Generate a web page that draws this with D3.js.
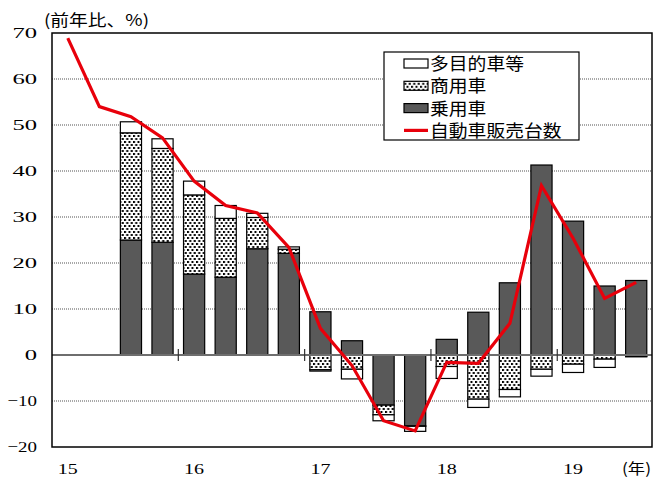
<!DOCTYPE html>
<html>
<head>
<meta charset="utf-8">
<script src="https://cdn.jsdelivr.net/npm/d3@7"></script>
<style>
  body { margin: 0; background: #fff; }
  .num { font-family: "Liberation Serif", "Times New Roman", serif; font-size: 16px; }
  .jp { font-family: "Noto Sans CJK JP", sans-serif; font-size: 15px; }
</style>
</head>
<body>
<svg width="653" height="479"></svg>
<script>
// quarters 2015Q1 .. 2019Q3
const categories = ['15Q1','15Q2','15Q3','15Q4','16Q1','16Q2','16Q3','16Q4','17Q1','17Q2','17Q3','17Q4',
  '18Q1','18Q2','18Q3','18Q4','19Q1','19Q2','19Q3'];
const yearLabels = ['15','','','','16','','','','17','','','','18','','','','19','',''];
const yTicks = [-20, -10, 0, 10, 20, 30, 40, 50, 60, 70];

// 乗用車
const passenger = [null, null, 25.0, 24.5, 17.6, 16.9, 23.1, 22.1, 9.4, 3.1, -10.9, -15.4, 3.4, 9.3, 15.7, 41.3, 29.1, 15.0, 16.2];
// 商用車
const commercial = [null, null, 23.3, 20.4, 17.2, 12.8, 6.8, 0.9, -3.2, -3.1, -2.1, -0.1, -2.5, -9.6, -7.5, -3.1, -2.0, -0.9, -0.3];
// 多目的車等
const multipurpose = [null, null, 2.4, 2.1, 3.0, 2.8, 0.9, 0.5, -0.3, -2.1, -1.3, -1.1, -2.6, -1.8, -1.6, -1.5, -1.8, -1.8, -0.1];
// 自動車販売台数
const sales = [68.9, 54.0, 51.8, 47.2, 37.8, 32.5, 30.9, 23.4, 5.8, -2.3, -14.3, -16.5, -1.6, -1.8, 6.9, 36.8, 25.4, 12.3, 15.8];

const svg = d3.select('svg');
const margin = { top: 33, right: 1, bottom: 32, left: 52 };
const width = +svg.attr('width');
const height = +svg.attr('height');
const innerWidth = width - margin.left - margin.right;
const innerHeight = height - margin.top - margin.bottom;

// dotted fill for 商用車
const defs = svg.append('defs');
const pat = defs.append('pattern')
  .attr('id', 'dots')
  .attr('patternUnits', 'userSpaceOnUse')
  .attr('width', 4.5).attr('height', 6);
pat.append('rect').attr('width', 4.5).attr('height', 6).attr('fill', '#fff');
pat.append('rect').attr('x', 0).attr('y', 0).attr('width', 2).attr('height', 2).attr('fill', '#000');
pat.append('rect').attr('x', 2.25).attr('y', 3).attr('width', 2).attr('height', 2).attr('fill', '#000');

const xScale = d3.scaleBand()
  .domain(categories)
  .range([0, innerWidth])
  .paddingInner(0.33)
  .paddingOuter(0.165);

const yScale = d3.scaleLinear()
  .domain([-20, 70])
  .range([innerHeight, 0]);

const g = svg.append('g')
  .attr('transform', `translate(${margin.left},${margin.top})`);

// grid lines
g.selectAll('.grid')
  .data(yTicks.filter(d => d !== 0 && d !== -20 && d !== 70))
  .enter().append('line')
  .attr('x1', 0).attr('x2', innerWidth)
  .attr('y1', d => yScale(d)).attr('y2', d => yScale(d))
  .attr('stroke', '#8c8c8c')
  .attr('stroke-width', 1.3)
  .attr('stroke-dasharray', '1,1');

// stacked bars, negatives stack downward
const keys = ['passenger', 'commercial', 'multipurpose'];
const rows = categories.map((c, i) => ({
  cat: c,
  passenger: passenger[i] || 0,
  commercial: commercial[i] || 0,
  multipurpose: multipurpose[i] || 0,
  has: passenger[i] !== null
}));
const stack = d3.stack().keys(keys).offset(d3.stackOffsetDiverging);
const series = stack(rows);
const fills = { passenger: '#595959', commercial: 'url(#dots)', multipurpose: '#fff' };

g.selectAll('.series')
  .data(series)
  .enter().append('g')
  .attr('fill', d => fills[d.key])
  .selectAll('rect')
  .data(d => d.filter(p => p.data.has && p[0] !== p[1]))
  .enter().append('rect')
  .attr('x', d => xScale(d.data.cat))
  .attr('width', xScale.bandwidth())
  .attr('y', d => yScale(Math.max(d[0], d[1])))
  .attr('height', d => Math.abs(yScale(d[0]) - yScale(d[1])))
  .attr('stroke', '#000')
  .attr('stroke-width', 1.2);

// zero line
g.append('line')
  .attr('x1', 0).attr('x2', innerWidth)
  .attr('y1', yScale(0)).attr('y2', yScale(0))
  .attr('stroke', '#6e6e6e')
  .attr('stroke-width', 2);

// year boundary ticks on zero line
const gap = xScale.step() * xScale.paddingInner() / 2;
g.selectAll('.ytick')
  .data(categories.filter((c, i) => yearLabels[i] && i > 0))
  .enter().append('line')
  .attr('x1', d => xScale(d) - gap).attr('x2', d => xScale(d) - gap)
  .attr('y1', yScale(0) - 6).attr('y2', yScale(0) + 6)
  .attr('stroke', '#333')
  .attr('stroke-width', 1.2);

// sales line
const line = d3.line()
  .x((d, i) => xScale(categories[i]) + xScale.bandwidth() / 2)
  .y(d => yScale(d));
g.append('path')
  .datum(sales)
  .attr('d', line)
  .attr('fill', 'none')
  .attr('stroke', '#e8000b')
  .attr('stroke-width', 3.2)
  .attr('stroke-linejoin', 'miter');

// frame
g.append('rect')
  .attr('width', innerWidth).attr('height', innerHeight)
  .attr('fill', 'none')
  .attr('stroke', '#000')
  .attr('stroke-width', 1.5);

// the original text is stretched sideways, so widen the glyphs
const digitWidth = s => s.replace('-', '').length * 12.3 + (s.includes('-') ? 5 : 0);

// y axis
const yAxis = d3.axisLeft(yScale)
  .tickValues(yTicks)
  .tickSize(0)
  .tickPadding(15);
const yAxisG = g.append('g').call(yAxis);
yAxisG.select('.domain').remove();
yAxisG.selectAll('text')
  .attr('class', 'num').attr('fill', '#000').attr('font-size', null).attr('font-family', null)
  .style('font-size', '15.5px')
  .attr('textLength', d => digitWidth(String(d)))
  .attr('lengthAdjust', 'spacingAndGlyphs');

// x axis
const xAxis = d3.axisBottom(xScale)
  .tickSize(0)
  .tickPadding(16)
  .tickFormat((d, i) => yearLabels[i]);
const xAxisG = g.append('g')
  .attr('transform', `translate(0,${innerHeight})`)
  .call(xAxis);
xAxisG.select('.domain').remove();
xAxisG.selectAll('text')
  .attr('class', 'num').attr('fill', '#000').attr('font-size', null).attr('font-family', null)
  .style('font-size', '15.5px')
  .attr('textLength', (d, i) => yearLabels[i] ? 20 : null)
  .attr('lengthAdjust', 'spacingAndGlyphs');

// unit labels
svg.append('text')
  .attr('class', 'jp')
  .attr('x', 44).attr('y', 26)
  .style('font-size', '16px')
  .attr('textLength', 105)
  .attr('lengthAdjust', 'spacingAndGlyphs')
  .text('(前年比、%)');
svg.append('text')
  .attr('class', 'jp')
  .attr('x', 622).attr('y', 474)
  .attr('textLength', 29)
  .attr('lengthAdjust', 'spacingAndGlyphs')
  .text('(年)');

// legend
const legend = svg.append('g').attr('transform', 'translate(384,52)');
legend.append('rect')
  .attr('width', 195).attr('height', 88)
  .attr('fill', '#fff')
  .attr('stroke', '#000')
  .attr('stroke-width', 1.2);
const legendItems = [
  { label: '多目的車等', type: 'rect', fill: '#fff' },
  { label: '商用車', type: 'rect', fill: 'url(#dots)' },
  { label: '乗用車', type: 'rect', fill: '#595959' },
  { label: '自動車販売台数', type: 'line' }
];
const li = legend.selectAll('.item')
  .data(legendItems)
  .enter().append('g')
  .attr('transform', (d, i) => `translate(0,${11.5 + i * 22.3})`);
li.filter(d => d.type === 'rect').append('rect')
  .attr('x', 20).attr('y', -4.5)
  .attr('width', 24).attr('height', 9)
  .attr('fill', d => d.fill)
  .attr('stroke', '#000')
  .attr('stroke-width', 1.2);
li.filter(d => d.type === 'line').append('line')
  .attr('x1', 20).attr('x2', 44)
  .attr('y1', 0).attr('y2', 0)
  .attr('stroke', '#e8000b')
  .attr('stroke-width', 3.2);
li.append('text')
  .attr('class', 'jp')
  .attr('x', 46).attr('y', 6.5)
  .style('font-size', '17px')
  .attr('textLength', d => d.label.length * 18.8)
  .attr('lengthAdjust', 'spacingAndGlyphs')
  .text(d => d.label);
</script>
</body>
</html>
